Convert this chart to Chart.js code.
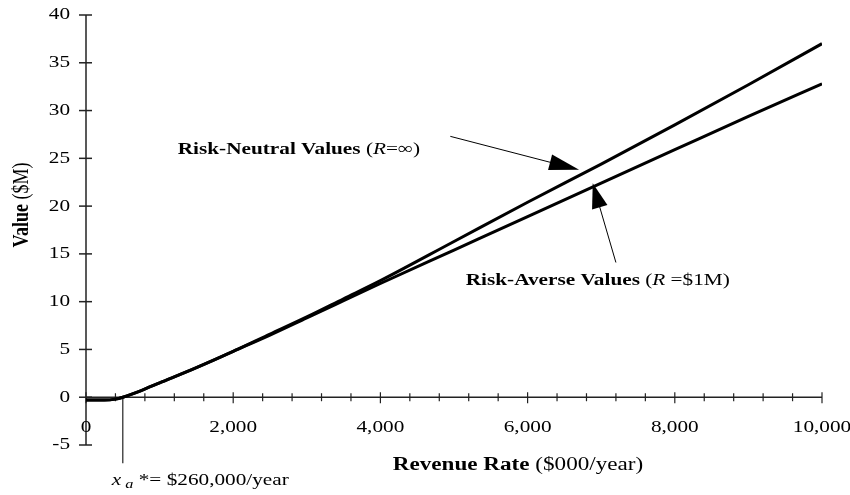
<!DOCTYPE html>
<html><head><meta charset="utf-8">
<script src="https://cdn.jsdelivr.net/npm/chart.js@4.4.0/dist/chart.umd.min.js"></script>
<style>html,body{margin:0;padding:0;background:#fff}</style>
</head><body>
<canvas id="c" width="850" height="495"></canvas>
<script>
// ---- data (Revenue rate in $000/year, values in $M) ----
const revenueRate = [0, 250, 400, 500, 750, 1000, 1500, 2000, 2500, 3000, 3500, 4000, 5000, 6000, 7000, 8000, 9000, 10000];
const riskNeutral = [-0.3, -0.3, -0.2, 0, 0.7, 1.5, 3.1, 4.8, 6.6, 8.4, 10.3, 12.2, 16.3, 20.4, 24.4, 28.5, 32.7, 37.0];
const riskAverse  = [-0.3, -0.3, -0.2, 0, 0.7, 1.5, 3.1, 4.8, 6.5, 8.3, 10.1, 11.9, 15.4, 18.9, 22.4, 25.9, 29.4, 32.8];
const yTicks = [-5, 0, 5, 10, 15, 20, 25, 30, 35, 40];
const xTickValues = [0, 2000, 4000, 6000, 8000, 10000];
const xTickLabels = ['0', '2,000', '4,000', '6,000', '8,000', '10,000'];
const xMinorStep = 400;
const xBreakEven = 500;      // where the curves cross zero (x_a*)
// annotation anchors in data units
const neutralArrow = {from: [4950, 27.3], to: [6700, 23.8], text: [4540, 25.9]};
const averseArrow  = {from: [7200, 14.1], to: [6885, 22.4], text: [5160, 12.2]};

const SERIF = '"Liberation Serif", "Times New Roman", serif';
const SX = 1.25; // horizontal stretch of text in the reference

function runs(ctx, parts, x, y, align) {
  // parts: [text, fontStyle, size, dy]
  let total = 0;
  parts.forEach(p => { ctx.font = p[1] + ' ' + p[2] + 'px ' + SERIF; total += ctx.measureText(p[0]).width * SX; });
  let cx = align === 'right' ? x - total : align === 'center' ? x - total / 2 : x;
  parts.forEach(p => {
    ctx.save();
    ctx.font = p[1] + ' ' + p[2] + 'px ' + SERIF;
    ctx.textBaseline = 'middle';
    ctx.textAlign = 'left';
    ctx.fillStyle = '#000';
    ctx.translate(cx, y + (p[3] || 0));
    ctx.scale(SX, 1);
    ctx.fillText(p[0], 0, 0);
    const w = ctx.measureText(p[0]).width * SX;
    ctx.restore();
    cx += w;
  });
}

function arrow(ctx, x0, y0, x1, y1, L, hw) {
  const dx = x1 - x0, dy = y1 - y0, d = Math.hypot(dx, dy);
  const ux = dx / d, uy = dy / d;
  ctx.save();
  ctx.strokeStyle = '#000'; ctx.fillStyle = '#000'; ctx.lineWidth = 1;
  ctx.beginPath(); ctx.moveTo(x0, y0); ctx.lineTo(x1 - ux * L * 0.8, y1 - uy * L * 0.8); ctx.stroke();
  const bx = x1 - ux * L, by = y1 - uy * L;
  ctx.beginPath();
  ctx.moveTo(x1, y1);
  ctx.lineTo(bx - uy * hw, by + ux * hw);
  ctx.lineTo(bx + uy * hw, by - ux * hw);
  ctx.closePath(); ctx.fill();
  ctx.restore();
}

const axesPlugin = {
  id: 'axesPlugin',
  beforeDatasetsDraw(chart) {
    const ctx = chart.ctx, xs = chart.scales.x, ys = chart.scales.y;
    const x0 = xs.getPixelForValue(0), y0 = ys.getPixelForValue(0);
    ctx.save();
    ctx.strokeStyle = '#222'; ctx.lineWidth = 1.5;
    // y axis
    ctx.beginPath();
    ctx.moveTo(x0, ys.getPixelForValue(40)); ctx.lineTo(x0, ys.getPixelForValue(-5)); ctx.stroke();
    yTicks.forEach(v => {
      const p = ys.getPixelForValue(v);
      ctx.beginPath(); ctx.moveTo(x0 - 7, p); ctx.lineTo(x0 + 6, p); ctx.stroke();
    });
    // x axis at y = 0
    ctx.beginPath();
    ctx.moveTo(x0, y0); ctx.lineTo(xs.getPixelForValue(10000), y0); ctx.stroke();
    ctx.lineWidth = 1.2;
    for (let v = 0; v <= 10000; v += xMinorStep) {
      const p = xs.getPixelForValue(v);
      const major = v % 2000 === 0;
      ctx.beginPath(); ctx.moveTo(p, y0 - (major ? 5 : 4)); ctx.lineTo(p, y0 + (major ? 6 : 4)); ctx.stroke();
    }
    // x_a* marker line
    const xa = xs.getPixelForValue(xBreakEven);
    ctx.lineWidth = 1.2;
    ctx.beginPath(); ctx.moveTo(xa, y0); ctx.lineTo(xa, y0 + 66); ctx.stroke();
    ctx.restore();
  },
  afterDraw(chart) {
    const ctx = chart.ctx, xs = chart.scales.x, ys = chart.scales.y;
    const x0 = xs.getPixelForValue(0), y0 = ys.getPixelForValue(0);
    // y tick labels
    yTicks.forEach(v => runs(ctx, [[String(v), 'normal', 17]], x0 - 16, ys.getPixelForValue(v), 'right'));
    // x tick labels
    xTickValues.forEach((v, i) => runs(ctx, [[xTickLabels[i], 'normal', 17]], xs.getPixelForValue(v), y0 + 30, 'center'));
    // axis titles
    runs(ctx, [['Revenue Rate ', 'bold', 18.5], ['($000/year)', 'normal', 18.5]], 518, 465, 'center');
    ctx.save();
    ctx.translate(22, 205); ctx.rotate(-Math.PI / 2);
    ctx.font = 'bold 18px ' + SERIF;
    const w1 = ctx.measureText('Value ').width;
    ctx.font = '18px ' + SERIF;
    const w2 = ctx.measureText('($M)').width;
    ctx.scale(1, SX);
    ctx.textBaseline = 'middle'; ctx.fillStyle = '#000';
    ctx.font = 'bold 18px ' + SERIF; ctx.fillText('Value ', -(w1 + w2) / 2, 0);
    ctx.font = '18px ' + SERIF; ctx.fillText('($M)', -(w1 + w2) / 2 + w1, 0);
    ctx.restore();
    // x_a* label
    const xa = xs.getPixelForValue(xBreakEven);
    runs(ctx, [['x', 'italic', 17, 0], [' a', 'italic', 13, 4], [' *= $260,000/year', 'normal', 17, 0]], xa - 11, y0 + 83, 'left');
    // annotations
    const P = a => [xs.getPixelForValue(a[0]), ys.getPixelForValue(a[1])];
    let t = P(neutralArrow.text);
    runs(ctx, [['Risk-Neutral Values ', 'bold', 17], ['(', 'normal', 17], ['R', 'italic', 17], ['=\u221E)', 'normal', 17]], t[0], t[1], 'right');
    let f = P(neutralArrow.from), e = P(neutralArrow.to);
    arrow(ctx, f[0], f[1], e[0], e[1], 30, 8);
    t = P(averseArrow.text);
    runs(ctx, [['Risk-Averse Values ', 'bold', 17], ['(', 'normal', 17], ['R', 'italic', 17], [' =$1M)', 'normal', 17]], t[0], t[1], 'left');
    f = P(averseArrow.from); e = P(averseArrow.to);
    arrow(ctx, f[0], f[1], e[0], e[1], 25, 8);
  }
};

new Chart(document.getElementById('c'), {
  type: 'line',
  data: {
    datasets: [
      {label: 'Risk-Neutral Values', data: revenueRate.map((x, i) => ({x, y: riskNeutral[i]})),
       borderColor: '#000', borderWidth: 3, pointRadius: 0, cubicInterpolationMode: 'monotone', fill: false},
      {label: 'Risk-Averse Values', data: revenueRate.map((x, i) => ({x, y: riskAverse[i]})),
       borderColor: '#000', borderWidth: 3, pointRadius: 0, cubicInterpolationMode: 'monotone', fill: false}
    ]
  },
  options: {
    responsive: false, animation: false, events: [],
    layout: {padding: {left: 86, right: 28, top: 15, bottom: 50}},
    scales: {
      x: {type: 'linear', min: 0, max: 10000, display: false},
      y: {type: 'linear', min: -5, max: 40, display: false}
    },
    plugins: {legend: {display: false}, tooltip: {enabled: false}}
  },
  plugins: [axesPlugin]
});
</script>
</body></html>
